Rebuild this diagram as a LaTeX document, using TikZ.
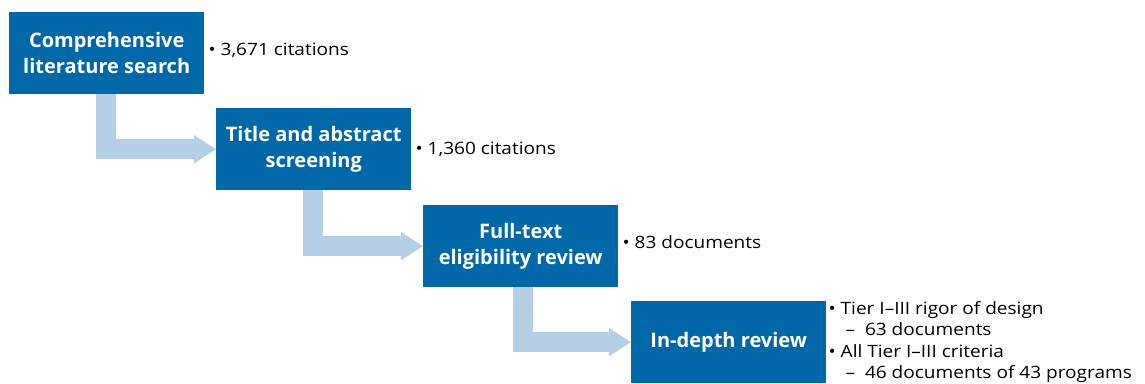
\documentclass[tikz,border=0pt]{standalone}
\usepackage{fontspec}
\setmainfont{Open Sans}
\newfontfamily\lblfont[FakeStretch=1.12]{Open Sans}
\usetikzlibrary{arrows.meta,calc}
\definecolor{boxblue}{HTML}{0068A8}
\definecolor{arrowblue}{HTML}{B4CFE6}
\begin{document}
\begin{tikzpicture}[x=1pt,y=-1pt,
  stepbox/.style={fill=boxblue, text=white, minimum width=195pt, minimum height=82pt,
    inner sep=0pt, align=center, anchor=north west,
    font=\fontsize{20}{26}\selectfont\bfseries},
  lbl/.style={anchor=west, inner sep=0pt, align=left, font=\lblfont\fontsize{17}{21.5}\selectfont},
  flow/.style={draw=arrowblue, line width=19.5pt,
    -{Triangle[width=27pt,length=22pt]}}]
\useasboundingbox (0,0) rectangle (1145,383);
\node[stepbox] (b1) at (9,12) {Comprehensive\\literature search};
\node[stepbox] (b2) at (216,108) {Title and abstract\\screening};
\node[stepbox] (b3) at (423,205) {Full-text\\eligibility review};
\node[stepbox] (b4) at (631,301) {In-depth review};
\draw[flow] ([xshift=97pt]b1.south west) |- (b2.west);
\draw[flow] ([xshift=97pt]b2.south west) |- (b3.west);
\draw[flow] ([xshift=100pt]b3.south west) |- (b4.west);
\node[lbl] (l1) at ([xshift=4pt,yshift=3pt]b1.east) {\textbullet\ 3,671 citations};
\node[lbl] (l2) at ([xshift=4pt]b2.east) {\textbullet\ 1,360 citations};
\node[lbl] (l3) at ([xshift=4pt,yshift=4pt]b3.east) {\textbullet\ 83 documents};
\node[lbl, anchor=north west] (l4) at ([xshift=2pt,yshift=0pt]b4.north east)
  {\textbullet\ Tier I–III rigor of design\\
   \hspace*{17pt}–\ \ 63 documents\\
   \textbullet\ All Tier I–III criteria\\
   \hspace*{17pt}–\ \ 46 documents of 43 programs};
\end{tikzpicture}
\end{document}
